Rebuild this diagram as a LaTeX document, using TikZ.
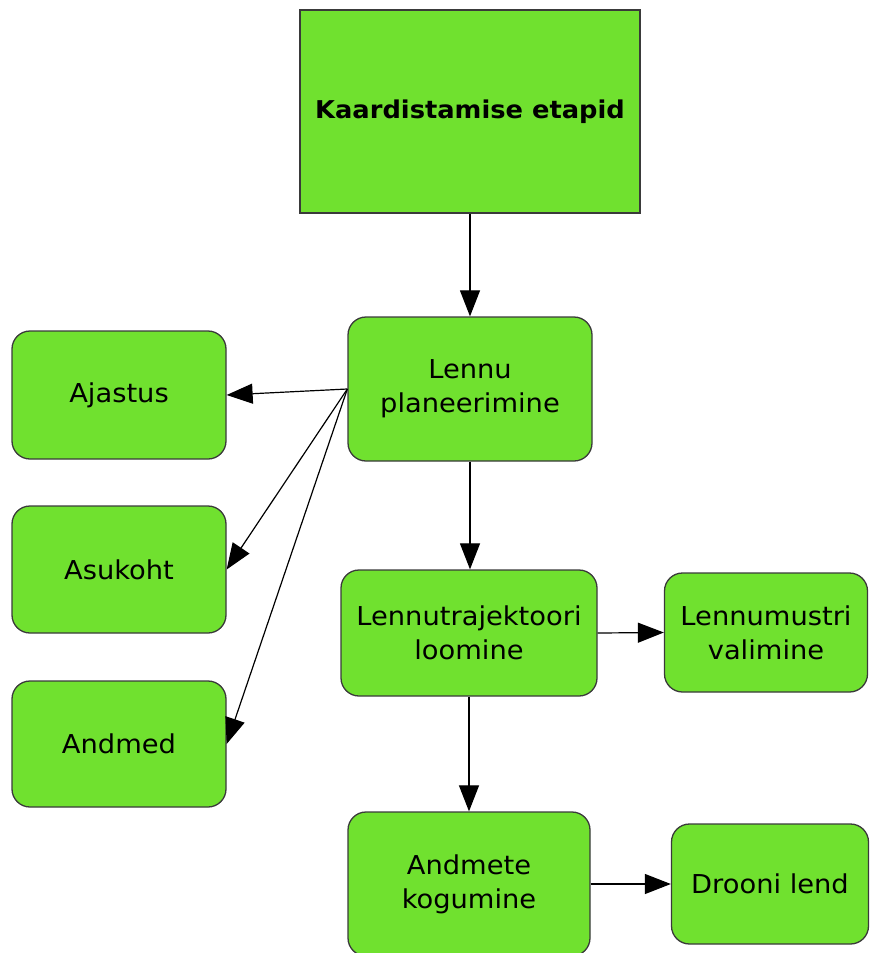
\documentclass[tikz,border=0pt]{standalone}
\usepackage{fontspec}
\setmainfont{DejaVu Sans}[FakeStretch=1.05]
\usepackage{tikz}
\usetikzlibrary{arrows.meta,positioning}
\definecolor{leaf}{HTML}{70E12F}
\definecolor{edge}{HTML}{3A3A3A}
\tikzset{
  stage/.style={
    rounded corners=18pt,draw=edge,fill=leaf,
    line width=1.3pt,inner sep=0pt,
    align=center,font=\fontsize{26}{34}\selectfont
  },
  titlebox/.style={
    draw=edge,fill=leaf,line width=1.5pt,inner sep=0pt,
    align=center,font=\bfseries\fontsize{24.5}{30}\selectfont
  },
  arrow/.style={-{Triangle[length=26pt,width=20pt]},draw=black,line width=1.2pt}
}

\begin{document}
\begin{tikzpicture}[x=1pt,y=-1pt]
\useasboundingbox (0,0) rectangle (870,953);
% main column
\node[titlebox,minimum width=340pt,minimum height=203pt] (etapid) at (470,111.5) {Kaardistamise etapid};
\node[stage,minimum width=244pt,minimum height=144pt] (planeerimine) at (470,389) {Lennu\\planeerimine};
\node[stage,minimum width=256pt,minimum height=126pt] (trajektoor) at (469,633) {Lennutrajektoori\\loomine};
\node[stage,minimum width=242pt,minimum height=144pt] (kogumine) at (469,884) {Andmete\\kogumine};
% left column
\node[stage,minimum width=214pt,minimum height=128pt] (ajastus) at (119,395) {Ajastus};
\node[stage,minimum width=214pt,minimum height=127pt] (asukoht) at (119,569.5) {Asukoht};
\node[stage,minimum width=214pt,minimum height=126pt] (andmed) at (119,744) {Andmed};
% right column
\node[stage,minimum width=203pt,minimum height=119pt] (muster) at (766,632.5) {Lennumustri\\valimine};
\node[stage,minimum width=197pt,minimum height=120pt] (lend) at (770,884) {Drooni lend};
% connectors
\draw[arrow] (etapid.south)--(planeerimine.north);
\draw[arrow] (planeerimine.west)--(ajastus.east);
\draw[arrow] (planeerimine.west)--(asukoht.east);
\draw[arrow] (planeerimine.west)--(andmed.east);
\draw[arrow] (planeerimine.south)--(planeerimine.south|-trajektoor.north);
\draw[arrow] (trajektoor.east)--(muster.west);
\draw[arrow] (trajektoor.south)--(kogumine.north);
\draw[arrow] (kogumine.east)--(lend.west);
\end{tikzpicture}
\end{document}
